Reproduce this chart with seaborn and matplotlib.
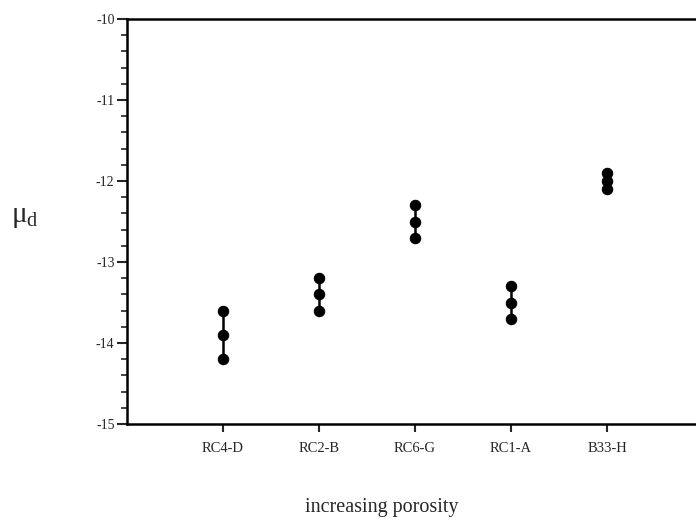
import matplotlib
matplotlib.use("Agg")
import matplotlib.pyplot as plt
from matplotlib.ticker import MultipleLocator
import seaborn as sns
import pandas as pd

samples = ["RC4-D", "RC2-B", "RC6-G", "RC1-A", "B33-H"]
upper = [-13.6, -13.2, -12.3, -13.3, -11.9]
middle = [-13.9, -13.4, -12.5, -13.5, -12.0]
lower = [-14.2, -13.6, -12.7, -13.7, -12.1]

rows = []
for s, u, m, l in zip(samples, upper, middle, lower):
    for v in (u, m, l):
        rows.append({"sample": s, "mu": v})
df = pd.DataFrame(rows)

sns.set_theme(style="white")
plt.rcParams["font.family"] = ["Liberation Serif", "DejaVu Serif"]
plt.rcParams["axes.unicode_minus"] = False

fig = plt.figure(figsize=(6.96, 5.2), dpi=100)
ax = fig.add_axes([127/696, 96/520, 576/696, 405/520])

sns.lineplot(data=df, x="sample", y="mu", units="sample", estimator=None,
             color="black", linewidth=1.8, marker="o", markersize=7.5,
             markeredgecolor="black", markerfacecolor="black", sort=False, ax=ax)

ax.set_xlim(-1, 5)
ax.set_ylim(-15, -10)
ax.yaxis.set_major_locator(MultipleLocator(1))
ax.yaxis.set_minor_locator(MultipleLocator(0.2))
ax.tick_params(axis="y", which="major", direction="out", length=7, width=1.5,
               labelsize=10, left=True, pad=2)
ax.tick_params(axis="y", which="minor", direction="out", length=4, width=1.2, left=True)
ax.tick_params(axis="x", which="major", direction="out", length=6, width=1.5,
               labelsize=10.5, bottom=True, pad=7)
for side in ("left", "top", "bottom"):
    ax.spines[side].set_visible(True)
    ax.spines[side].set_color("black")
    ax.spines[side].set_linewidth(1.8)
ax.spines["right"].set_visible(False)

ax.set_xlabel("increasing porosity", fontsize=14.5, va="center")
ax.xaxis.set_label_coords(0.443, -0.205)
ax.set_ylabel(r"$\mathregular{μ_d}$", fontsize=21, rotation=0, va="center")
ax.yaxis.set_label_coords(-0.177, 0.51)

fig.savefig("out.png", dpi=100, facecolor="white")
